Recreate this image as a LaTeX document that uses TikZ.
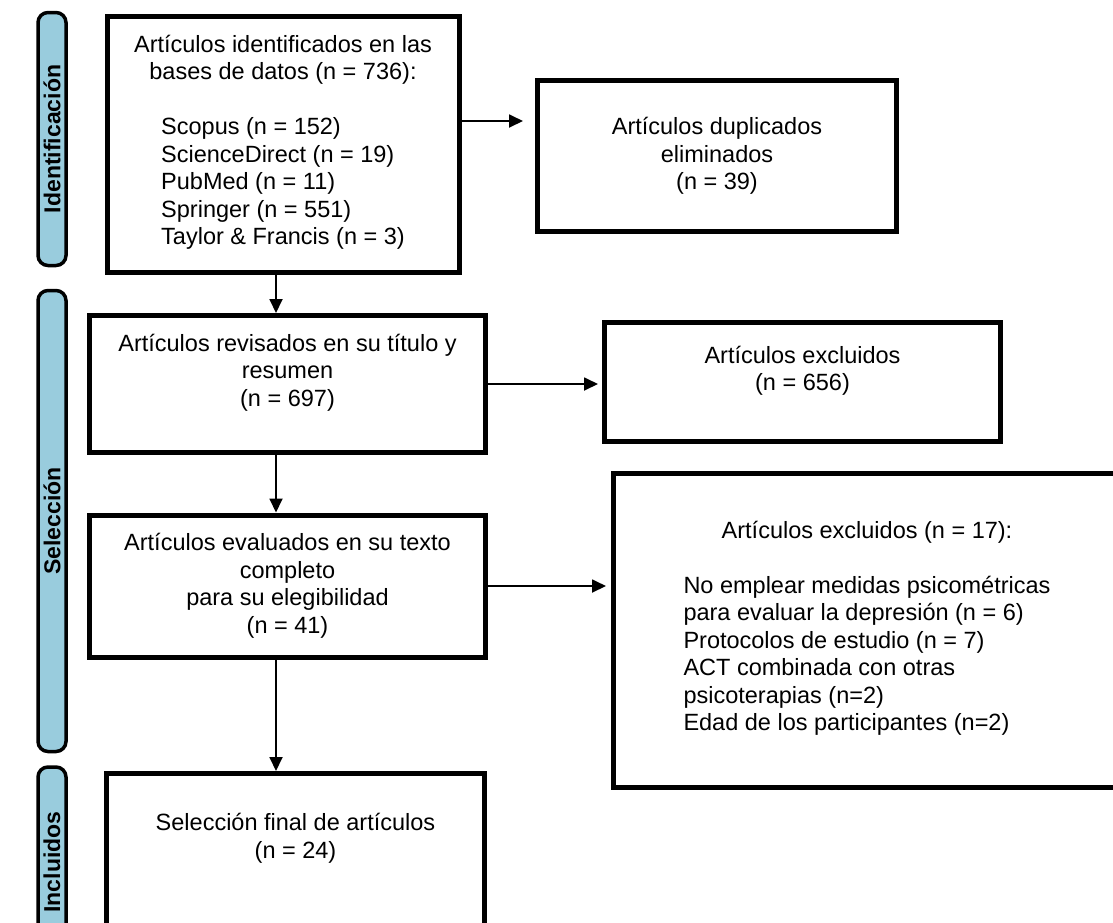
\documentclass[tikz,border=0pt]{standalone}
\usepackage{fontspec}
\setmainfont{Liberation Sans}
\usetikzlibrary{arrows.meta, positioning}
\definecolor{bandfill}{RGB}{153,204,221}

\begin{document}
\begin{tikzpicture}[x=1pt, y=1pt,
    box/.style={draw, line width=5pt, align=center, inner sep=0pt,
      font=\fontsize{23.5}{27.5}\selectfont},
    band/.style={draw, line width=3.5pt, fill=bandfill, rounded corners=10pt,
      rotate=90, inner sep=0pt, minimum height=28pt,
      font=\bfseries\fontsize{23}{27}\selectfont},
    arr/.style={-{Triangle[length=14pt, width=13pt]}, line width=1.8pt}]

  \useasboundingbox (0,0) rectangle (1113,-922);
  \clip (0,0) rectangle (1113,-922);

  % fases
  \node[band, minimum width=253pt] (ident) at (52,-139) {Identificación};
  \node[band, minimum width=461pt] (selec) at (52,-521) {Selección};
  \node[band, minimum width=190pt] (incl) at (52,-862) {Incluidos};

  % cajas
  \node[box, minimum width=352pt, minimum height=256pt] (bases) at (283,-144) {%
    Artículos identificados en las\\bases de datos (n = 736):\\[27.5pt]
    \begin{tabular}[t]{@{}l@{}}
      Scopus (n = 152)\\ScienceDirect (n = 19)\\PubMed (n = 11)\\
      Springer (n = 551)\\Taylor \& Francis (n = 3)
    \end{tabular}};
  \node[box, minimum width=359pt, minimum height=151pt] (dupl) at (717,-156)
    {Artículos duplicados\\eliminados\\(n = 39)};
  \node[box, minimum width=396pt, minimum height=137pt] (revis) at (287.5,-384)
    {Artículos revisados en su título y\\resumen\\(n = 697)\\~};
  \node[box, minimum width=396pt, minimum height=119pt] (excl) at (802.5,-382)
    {Artículos excluidos\\(n = 656)\\~};
  \node[box, minimum width=396pt, minimum height=142pt] (evalu) at (287.5,-586)
    {Artículos evaluados en su texto\\completo\\para su elegibilidad\\(n = 41)};
  \node[box, minimum width=507pt, minimum height=314pt] (motiv) at (867,-630.5) {%
    Artículos excluidos (n = 17):\\[27.5pt]
    \begin{tabular}[t]{@{}l@{}}
      No emplear medidas psicométricas\\para evaluar la depresión (n = 6)\\
      Protocolos de estudio (n = 7)\\ACT combinada con otras\\
      psicoterapias (n=2)\\Edad de los participantes (n=2)
    \end{tabular}\\~};
  \node[box, minimum width=378pt, minimum height=180pt] (final) at (295.5,-863.5)
    {Selección final de artículos\\(n = 24)\\~\\~};

  % flechas
  \coordinate (eje) at (276,0);
  \draw[arr] (bases.south -| eje) -- (revis.north -| eje);
  \draw[arr] (revis.south -| eje) -- (evalu.north -| eje);
  \draw[arr] (evalu.south -| eje) -- (final.north -| eje);
  \draw[arr, shorten >=12pt] ([yshift=23pt]bases.east) -- ([yshift=23pt]bases.east -| dupl.west);
  \draw[arr, shorten >=4pt] (revis.east) -- (revis.east -| excl.west);
  \draw[arr, shorten >=5pt] (evalu.east) -- (evalu.east -| motiv.west);
\end{tikzpicture}
\end{document}
